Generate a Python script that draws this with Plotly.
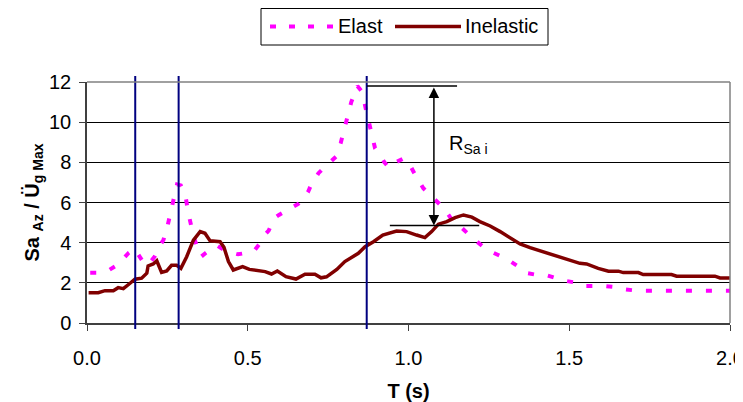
import plotly.graph_objects as go

# ---- data ----
elast_T = [0.01, 0.04, 0.07, 0.09, 0.11, 0.13, 0.148, 0.162, 0.18, 0.195, 0.21, 0.225, 0.238, 0.25, 0.265, 0.28,
           0.292, 0.305, 0.315, 0.33, 0.345, 0.355, 0.37, 0.39, 0.405, 0.425, 0.45, 0.47, 0.5, 0.52, 0.535, 0.55,
           0.565, 0.583, 0.597, 0.62, 0.64, 0.657, 0.675, 0.688, 0.697, 0.72, 0.733, 0.761, 0.777, 0.789, 0.8,
           0.81, 0.822, 0.841, 0.856, 0.868, 0.882, 0.896, 0.91, 0.925, 0.94, 0.96, 0.985, 1.0, 1.02, 1.046,
           1.067, 1.093, 1.11, 1.137, 1.15, 1.186, 1.2, 1.236, 1.251, 1.295, 1.314, 1.355, 1.37, 1.412, 1.433,
           1.471, 1.492, 1.531, 1.552, 1.59, 1.611, 1.65, 1.671, 1.71, 1.8, 1.9, 2.0]
elast_Sa = [2.5, 2.5, 2.65, 2.85, 3.15, 3.5, 3.7, 3.35, 2.9, 3.0, 3.3, 3.8, 4.15, 4.8, 5.75, 6.9,
            6.85, 6.45, 5.5, 4.4, 3.65, 3.3, 3.5, 3.75, 3.85, 3.65, 3.5, 3.42, 3.5, 3.6, 3.9, 4.35,
            4.6, 5.22, 5.38, 5.6, 5.76, 5.93, 6.2, 6.54, 6.88, 7.46, 7.66, 8.12, 8.32, 8.95, 9.6,
            10.3, 11.0, 11.8, 11.5, 10.6, 9.6, 8.7, 8.4, 8.0, 7.72, 8.0, 8.2, 8.0, 7.4, 6.71,
            6.38, 5.96, 5.71, 5.1, 4.97, 4.43, 4.22, 3.75, 3.59, 3.27, 3.1, 2.67, 2.48, 2.36, 2.36,
            2.18, 2.09, 1.98, 1.84, 1.84, 1.84, 1.78, 1.68, 1.61, 1.61, 1.61, 1.61]

inel_T = [0.005, 0.035, 0.056, 0.082, 0.097, 0.113, 0.134, 0.149, 0.17, 0.186, 0.19, 0.206, 0.217, 0.232,
          0.248, 0.263, 0.279, 0.292, 0.31, 0.331, 0.352, 0.367, 0.383, 0.414, 0.426, 0.44, 0.455, 0.484,
          0.505, 0.533, 0.554, 0.574, 0.592, 0.619, 0.65, 0.678, 0.709, 0.728, 0.745, 0.777, 0.802, 0.844,
          0.865, 0.891, 0.92, 0.963, 0.994, 1.025, 1.051, 1.072, 1.093, 1.119, 1.145, 1.171, 1.197, 1.222,
          1.254, 1.285, 1.316, 1.347, 1.378, 1.409, 1.44, 1.476, 1.508, 1.533, 1.554, 1.59, 1.622, 1.653,
          1.668, 1.715, 1.73, 1.818, 1.834, 1.953, 1.969, 2.0]
inel_Sa = [1.51, 1.51, 1.61, 1.61, 1.76, 1.71, 1.98, 2.18, 2.23, 2.48, 2.84, 2.94, 3.1, 2.52,
           2.59, 2.87, 2.87, 2.72, 3.3, 4.13, 4.55, 4.47, 4.09, 4.05, 3.77, 3.06, 2.64, 2.81,
           2.67, 2.61, 2.56, 2.44, 2.59, 2.31, 2.19, 2.43, 2.43, 2.25, 2.3, 2.67, 3.06, 3.47,
           3.8, 4.05, 4.38, 4.58, 4.55, 4.38, 4.25, 4.55, 4.92, 5.05, 5.25, 5.38, 5.27, 5.05,
           4.83, 4.55, 4.25, 3.94, 3.75, 3.6, 3.44, 3.27, 3.1, 2.97, 2.94, 2.72, 2.58, 2.58,
           2.51, 2.51, 2.41, 2.41, 2.33, 2.33, 2.24, 2.24]

period_lines = [0.15, 0.285, 0.87]
r_top_T = [0.871, 1.151]
r_top_Sa = 11.8
r_bot_T = [0.942, 1.22]
r_bot_Sa = 4.85
r_arrow_T = 1.079
r_label_T = 1.12
r_label_Sa = 8.9

x_ticks = [0.0, 0.5, 1.0, 1.5, 2.0]
y_ticks = [0, 2, 4, 6, 8, 10, 12]

FONT = "Liberation Sans, Arial, sans-serif"
MAGENTA = "#FF00FF"
MAROON = "#800000"
NAVY = "#000080"

fig = go.Figure()
fig.add_trace(go.Scatter(x=elast_T, y=elast_Sa, mode="lines", name="Elast",
                         line=dict(color=MAGENTA, width=4, dash="6px,14px"), showlegend=False))
fig.add_trace(go.Scatter(x=inel_T, y=inel_Sa, mode="lines", name="Inelastic",
                         line=dict(color=MAROON, width=3.5), showlegend=False))

shapes = []
for t in period_lines:
    shapes.append(dict(type="line", xref="x", yref="paper", x0=t, x1=t, y0=-0.025, y1=1.025,
                       line=dict(color=NAVY, width=2), layer="above"))
# plot border (top/right) in gray
shapes.append(dict(type="line", xref="paper", yref="paper", x0=0, x1=1, y0=1, y1=1,
                   line=dict(color="#808080", width=1.5), layer="above"))
shapes.append(dict(type="line", xref="paper", yref="paper", x0=1, x1=1, y0=0, y1=1,
                   line=dict(color="#808080", width=1.5), layer="above"))
# R annotation lines
shapes.append(dict(type="line", xref="x", yref="y", x0=r_top_T[0], x1=r_top_T[1], y0=r_top_Sa, y1=r_top_Sa,
                   line=dict(color="black", width=1.5), layer="above"))
shapes.append(dict(type="line", xref="x", yref="y", x0=r_bot_T[0], x1=r_bot_T[1], y0=r_bot_Sa, y1=r_bot_Sa,
                   line=dict(color="black", width=1.5), layer="above"))

# custom legend (positions given in page pixels relative to the plot area)
def px2x(px):
    return (px - 87) / 643.0

def py2y(py):
    return (323 - py) / 241.0

shapes.append(dict(type="rect", xref="paper", yref="paper", x0=px2x(261), x1=px2x(548), y0=py2y(45), y1=py2y(8.5),
                   line=dict(color="black", width=1), fillcolor="white", layer="above"))
shapes.append(dict(type="line", xref="paper", yref="paper", x0=px2x(270), x1=px2x(334), y0=py2y(26.5), y1=py2y(26.5),
                   line=dict(color=MAGENTA, width=4, dash="6px,13px"), layer="above"))
shapes.append(dict(type="line", xref="paper", yref="paper", x0=px2x(395), x1=px2x(461), y0=py2y(26.5), y1=py2y(26.5),
                   line=dict(color=MAROON, width=3.5), layer="above"))

annotations = [
    dict(x=px2x(336), y=py2y(26.5), xref="paper", yref="paper", text="Elast", showarrow=False,
         xanchor="left", yanchor="middle", font=dict(family=FONT, size=20, color="black")),
    dict(x=px2x(463), y=py2y(26.5), xref="paper", yref="paper", text="Inelastic", showarrow=False,
         xanchor="left", yanchor="middle", font=dict(family=FONT, size=20, color="black")),
    dict(x=r_arrow_T, y=r_bot_Sa, ax=r_arrow_T, ay=r_top_Sa, xref="x", yref="y", axref="x", ayref="y",
         text="", showarrow=True, arrowhead=2, startarrowhead=2, arrowside="end+start",
         arrowsize=1.4, startarrowsize=1.4, arrowwidth=1.5, arrowcolor="black"),
    dict(x=r_label_T, y=r_label_Sa, xref="x", yref="y", text="R<sub>Sa i</sub>", showarrow=False,
         xanchor="left", yanchor="middle", font=dict(family=FONT, size=20, color="black")),
]

# the page body adds an 8px offset, so the figure is 735x394 and starts at (8, 8)
fig.update_layout(
    width=735, height=394,
    margin=dict(l=79, r=13, t=74, b=79, autoexpand=False),
    paper_bgcolor="white", plot_bgcolor="white",
    font=dict(family=FONT, size=20, color="black"),
    shapes=shapes, annotations=annotations,
    showlegend=False,
)
fig.update_xaxes(range=[0, 2], tickvals=x_ticks, ticktext=[f"{v:.1f}" for v in x_ticks],
                 automargin=False, ticklabeloverflow="allow",
                 showgrid=False, zeroline=False, showline=True, linecolor="#404040", linewidth=1.5,
                 ticks="outside", ticklen=6, tickcolor="#404040", tickwidth=1,
                 tickfont=dict(family=FONT, size=20), ticklabelstandoff=10,
                 title=dict(text="<b>T (s)</b>", font=dict(family=FONT, size=20), standoff=19))
fig.update_yaxes(range=[0, 12], tickvals=y_ticks, automargin=False,
                 showgrid=True, gridcolor="#000000", gridwidth=1,
                 zeroline=False, showline=True, linecolor="#404040", linewidth=1.5,
                 ticks="outside", ticklen=6, tickcolor="#404040", tickwidth=1,
                 tickfont=dict(family=FONT, size=20), ticklabelstandoff=4,
                 title=dict(text="<b>Sa <sub>Az</sub> / Ü<sub>g Max</sub></b>", font=dict(family=FONT, size=20), standoff=4))

fig.write_html("out.html")
